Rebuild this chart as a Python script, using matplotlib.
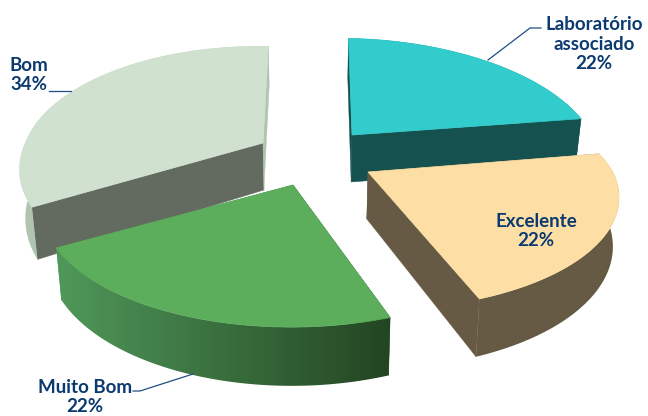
import numpy as np
import matplotlib
matplotlib.use('Agg')
import matplotlib.pyplot as plt
from matplotlib.patches import Polygon
from matplotlib.colors import LinearSegmentedColormap

# data
slice_names = ['Laboratório\nassociado', 'Excelente', 'Muito Bom', 'Bom']
slice_values = [22, 22, 22, 34]

# look of the slices
tip_x = [352, 368, 293, 263]
tip_y = [135, 172, 185, 143]
x_scale = [1.0, 1.02, 1.02, 0.99]
y_scale = [1.0, 0.95, 0.98, 1.0]
turn_deg = [2.5, 1.0, 2.5, 2.5]
top_colors = ['#33cccc', '#fddfa6', '#5cad5c', '#d0e1d0']
rim_left = ['#15524f', '#665a44', '#50985a', '#b1c4b1']
rim_right = ['#15524f', '#665a44', '#234522', '#b1c4b1']
start_wall = ['#15524f', '#665a44', '#234522', '#636b60']
end_wall = ['#15524f', '#665a44', '#50985a', '#b1c4b1']
draw_order = [3, 0, 1, 2]

text_col = '#0b3a70'
line_col = '#1f4e85'

R_X = 240.0
R_Y = 116.0
PERSP = 0.2
DEPTH = 47.0


def project(theta, i, r=1.0, bottom=False):
    # disc -> screen pixels, far side of the disc is smaller
    tx, ty = tip_x[i], tip_y[i]
    a = theta + np.radians(turn_deg[i])
    u = r * np.sin(a)
    v = r * np.cos(a)
    w = 1 + PERSP * v
    x = tx + x_scale[i] * R_X * u / w + (310 - tx) * 0.1 * v - 8 * np.maximum(v, 0)
    y = ty - y_scale[i] * R_Y * v / w
    if bottom:
        y = y + DEPTH / w
        x = x + (310 - x) * 0.02
    return x, y


def draw_slice(ax, i, start, stop, z):
    tx, ty = tip_x[i], tip_y[i]
    th = np.linspace(start, stop, 120)
    xt, yt = project(th, i)
    xb, yb = project(th, i, bottom=True)
    x0b, y0b = project(0.0, i, r=0.0, bottom=True)

    # straight walls
    ax.fill([tx, xt[0], xb[0], x0b], [ty, yt[0], yb[0], y0b], color=start_wall[i], lw=0.3, zorder=z)
    ax.fill([tx, xt[-1], xb[-1], x0b], [ty, yt[-1], yb[-1], y0b], color=end_wall[i], lw=0.3, zorder=z)

    # outer rim, shaded left to right
    rim = Polygon(np.c_[np.r_[xt, xb[::-1]], np.r_[yt, yb[::-1]]], closed=True,
                  transform=ax.transData, fc='none', ec='none')
    ax.add_patch(rim)
    cmap = LinearSegmentedColormap.from_list('rim', [rim_left[i], rim_right[i]])
    im = ax.imshow(np.linspace(0, 1, 256).reshape(1, -1), cmap=cmap, aspect='auto',
                   extent=[min(xt.min(), xb.min()), max(xt.max(), xb.max()), 416, 0],
                   interpolation='bilinear', zorder=z + 1)
    im.set_clip_path(rim)

    # top
    ax.fill(np.r_[tx, xt], np.r_[ty, yt], color=top_colors[i], lw=0.5, zorder=z + 2)


fig = plt.figure(figsize=(6.48, 4.16), dpi=100)
ax = fig.add_axes([0, 0, 1, 1])

angles = np.cumsum([0] + slice_values) / sum(slice_values) * 2 * np.pi
for n, i in enumerate(draw_order):
    draw_slice(ax, i, angles[i], angles[i + 1], 10 * (n + 1))

ax.set_xlim(0, 648)
ax.set_ylim(416, 0)
ax.axis('off')

# labels
font = dict(family='Lato', fontweight='bold', fontsize=13.5, color=text_col,
            ha='center', va='center', linespacing=1.2, zorder=100)
ax.text(594, 44, slice_names[0] + '\n%d%%' % slice_values[0], **font)
ax.text(536, 231, slice_names[1] + '\n%d%%' % slice_values[1], **font)
ax.text(85, 397, slice_names[2] + '\n%d%%' % slice_values[2], **font)
ax.text(29, 75, slice_names[3] + '\n%d%%' % slice_values[3], **font)

ax.plot([488, 530, 541], [60, 28, 28], color=line_col, lw=0.9, zorder=100)
ax.plot([133, 140, 193], [391, 391, 374], color=line_col, lw=0.9, zorder=100)
ax.plot([49, 71], [91, 91], color=line_col, lw=0.9, zorder=100)

fig.savefig('out.png', dpi=100)
